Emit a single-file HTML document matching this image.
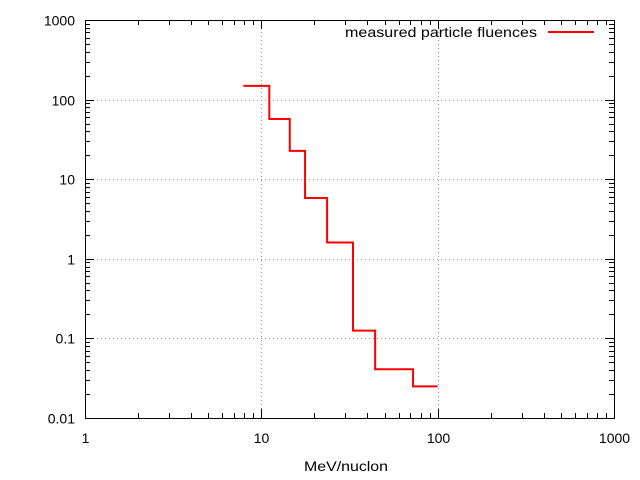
<!DOCTYPE html>
<html><head><meta charset="utf-8"><style>
html,body{margin:0;padding:0;background:#fff;}
svg{display:block;font-family:"Liberation Sans",sans-serif;font-size:14px;}
</style></head><body>
<svg id="chart" width="640" height="480" viewBox="0 0 640 480">
<g id="grid"></g>
<g id="ticks"></g>
<g id="labels"></g>
<rect x="85.5" y="20.5" width="529" height="398" fill="none" stroke="#000" stroke-width="1"/>
<path id="series" fill="none" stroke="#f00" stroke-width="2"/>
<g>
<text x="345" y="37" textLength="192" lengthAdjust="spacingAndGlyphs">measured particle fluences</text>
<line x1="548" y1="32" x2="594" y2="32" stroke="#f00" stroke-width="2"/>
</g>
<text x="304" y="471" textLength="84" lengthAdjust="spacingAndGlyphs">MeV/nuclon</text>
</svg>
<script>
const xEdges=[7.9,11.1,14.5,17.7,23.6,33.1,44.2,72.5,100];
const yValues=[149,57,22.7,5.8,1.6,0.125,0.041,0.025,0.025];
const xTickLabels=["1","10","100","1000"];
const yTickLabels=["0.01","0.1","1","10","100","1000"];
const L=85,R=614,T=20,B=418;
function sx(v){return L+(Math.log10(v)-0)/3*(R-L);}
function sy(v){return B-(Math.log10(v)+2)/5*(B-T);}
const NS="http://www.w3.org/2000/svg";
const grid=document.getElementById('grid'),ticks=document.getElementById('ticks'),labels=document.getElementById('labels');
function ln(g,x1,y1,x2,y2,dash,name){const l=document.createElementNS(NS,'line');
l.setAttribute('x1',x1);l.setAttribute('y1',y1);l.setAttribute('x2',x2);l.setAttribute('y2',y2);
l.setAttribute('stroke',dash?'#999':'#000');l.setAttribute('stroke-width','1');if(dash)l.setAttribute('stroke-dasharray','1,3');


g.appendChild(l);}
function tx(s,x,y,anchor,name){const t=document.createElementNS(NS,'text');t.setAttribute('x',x);t.setAttribute('y',y);t.setAttribute('text-anchor',anchor);t.textContent=s;


labels.appendChild(t);}
xTickLabels.forEach((s,i)=>{const v=parseFloat(s);const x=Math.round(sx(v))+0.5;
if(i>0&&i<xTickLabels.length-1)ln(grid,x,T,x,B,true,'x-grid-line');
ln(ticks,x,B,x,B-9,false,'x-major-tick');ln(ticks,x,T,x,T+9,false,'x-major-tick');
tx(s,x,B+25,'middle','x-tick-label');
if(i<xTickLabels.length-1)for(let k=2;k<10;k++){const mx=Math.round(sx(v*k))+0.5;ln(ticks,mx,B,mx,B-5,false,'x-minor-tick');ln(ticks,mx,T,mx,T+5,false,'x-minor-tick');}});
yTickLabels.forEach((s,i)=>{const v=parseFloat(s);const y=Math.round(sy(v))+0.5;
if(i>0&&i<yTickLabels.length-1)ln(grid,L,y,R,y,true,'y-grid-line');
ln(ticks,L,y,L+9,y,false,'y-major-tick');ln(ticks,R,y,R-9,y,false,'y-major-tick');
tx(s,L-10,y+5,'end','y-tick-label');
if(i<yTickLabels.length-1)for(let k=2;k<10;k++){const my=Math.round(sy(v*k))+0.5;ln(ticks,L,my,L+5,my,false,'y-minor-tick');ln(ticks,R,my,R-5,my,false,'y-minor-tick');}});
let d='';
for(let i=0;i<xEdges.length;i++){const x=sx(xEdges[i]),y=sy(yValues[i]);
if(i===0)d+='M'+x+','+y;else{d+='L'+x+','+sy(yValues[i-1])+'L'+x+','+y;}}
document.getElementById('series').setAttribute('d',d);
</script>
</body></html>
